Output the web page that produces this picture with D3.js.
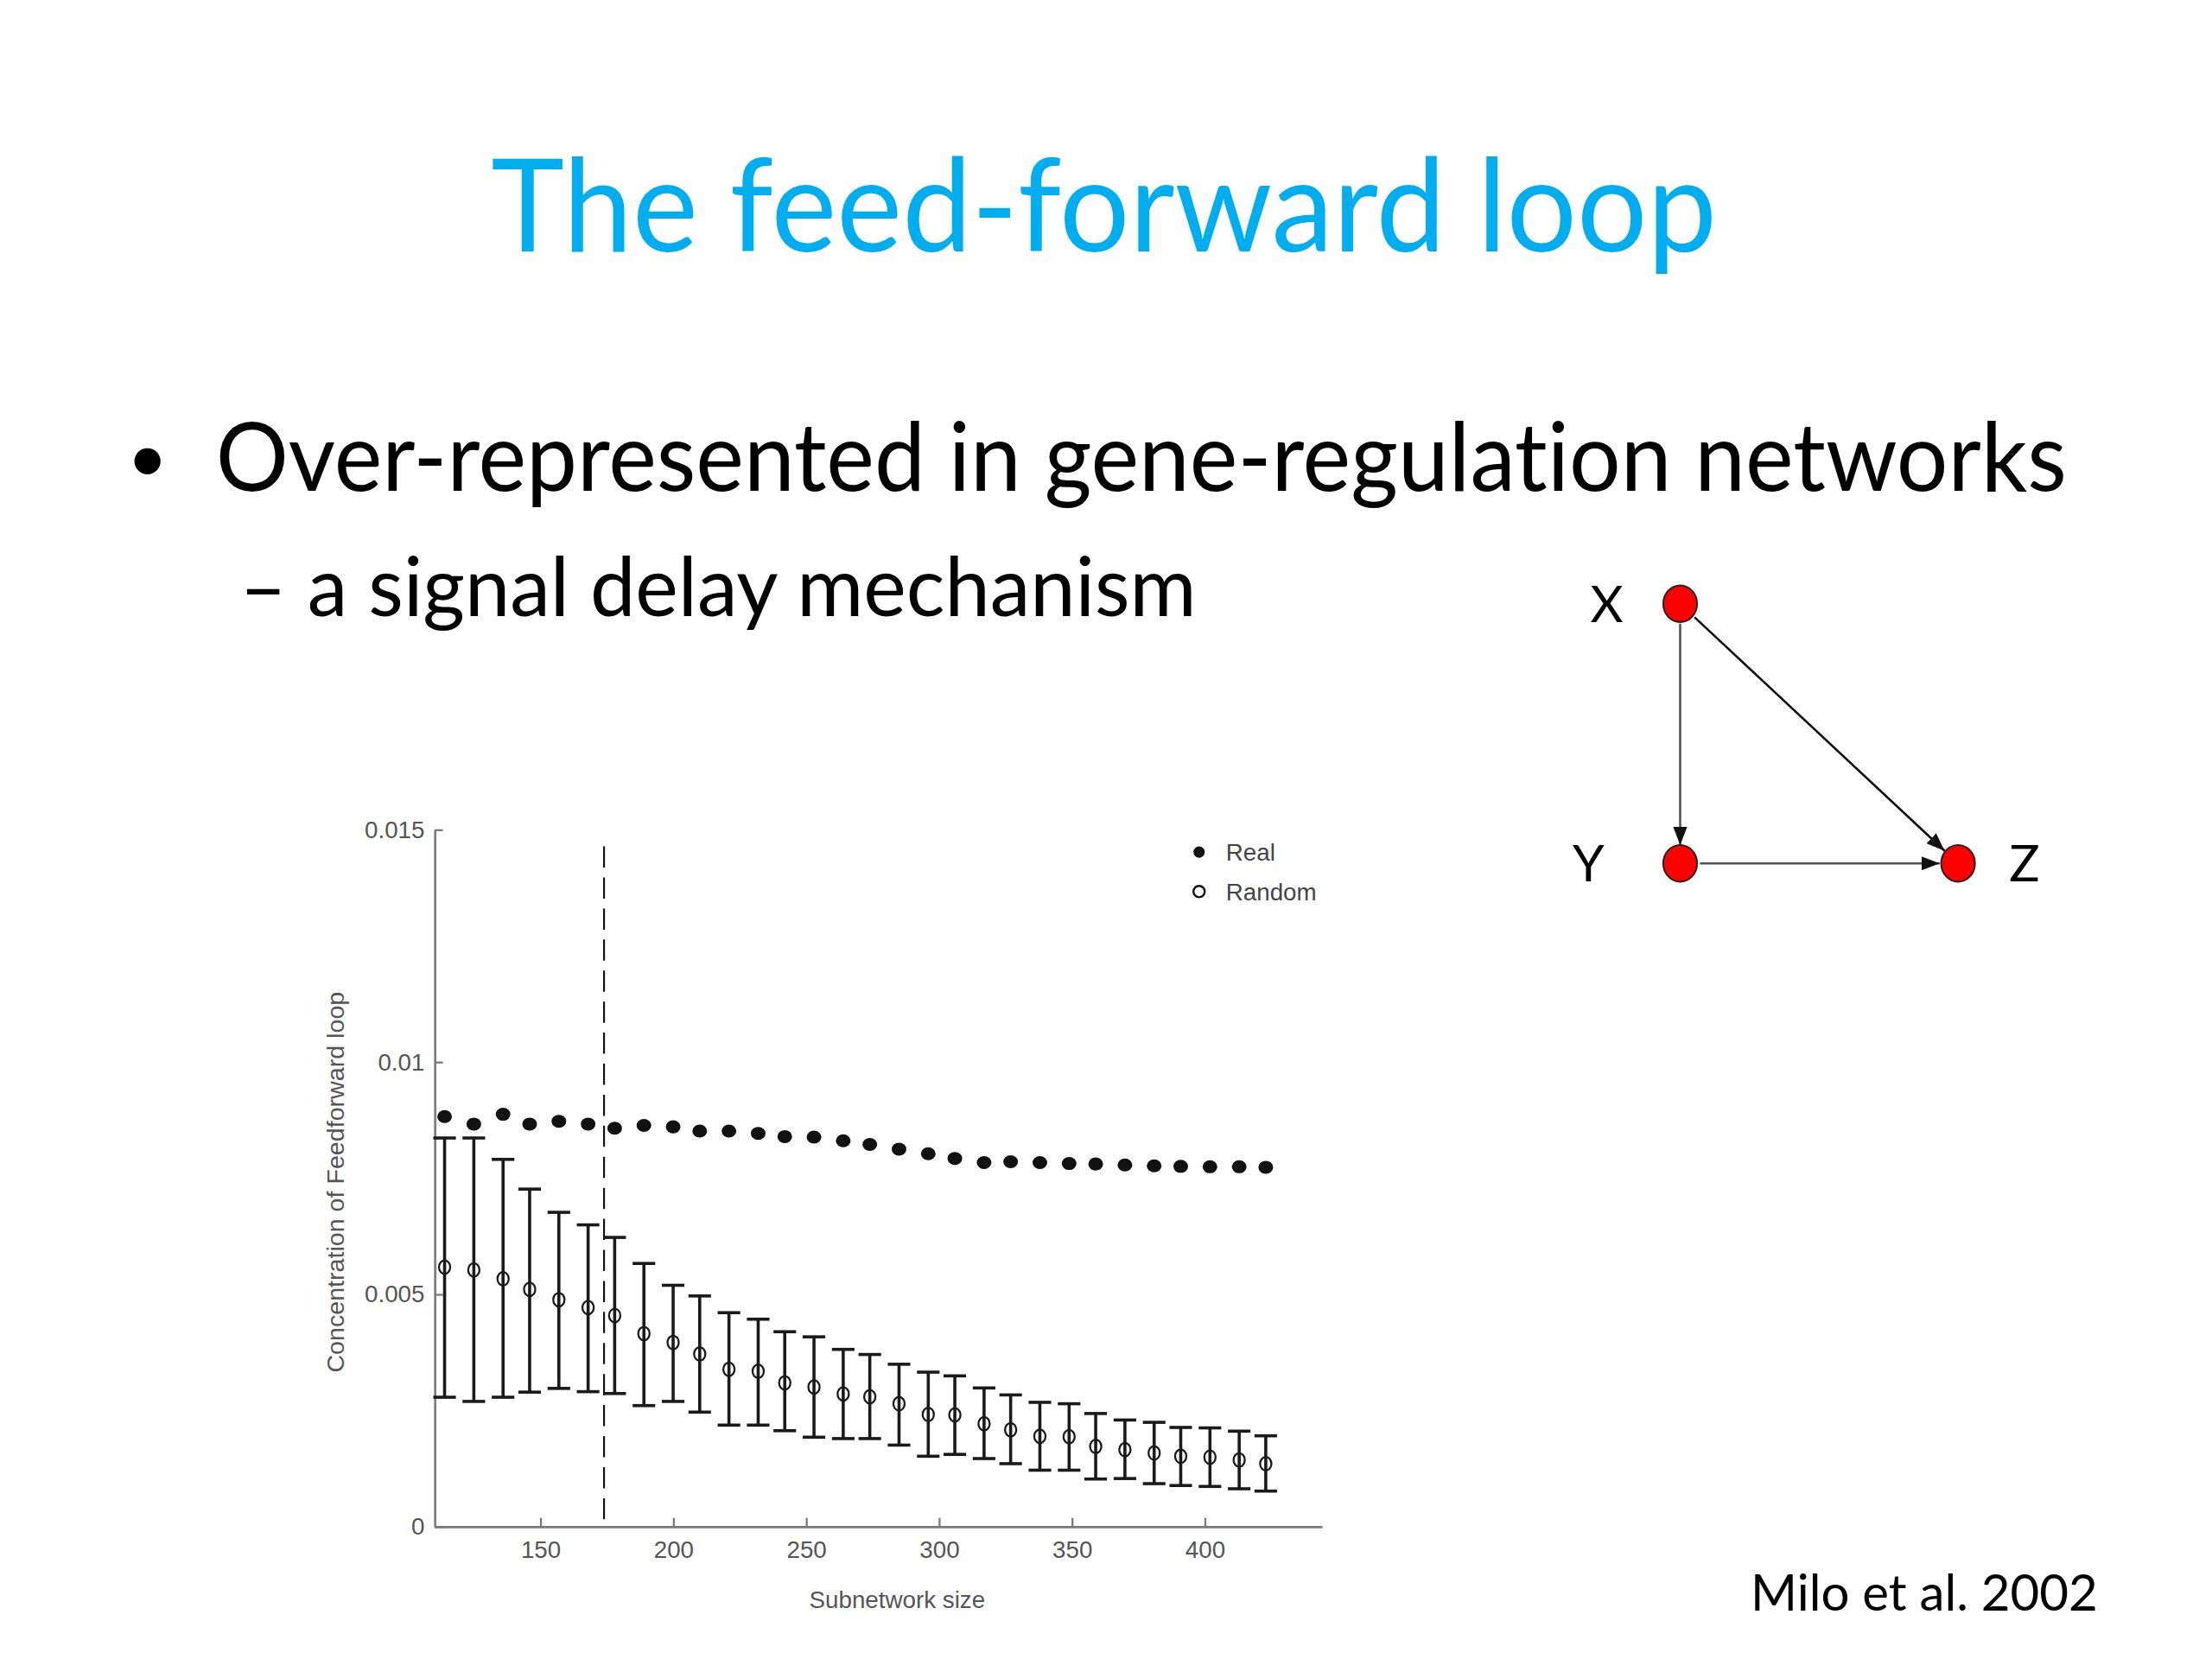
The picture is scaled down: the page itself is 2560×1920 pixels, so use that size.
<!DOCTYPE html>
<html>
<head>
<meta charset="utf-8">
<script src="https://cdn.jsdelivr.net/npm/d3@7"></script>
<style>
  html, body { margin: 0; padding: 0; background: #fff; }
  svg { display: block; }
  text { font-variant-ligatures: none; }
</style>
</head>
<body>
<svg id="slide" width="2560" height="1920" viewBox="0 0 1568 1176"></svg>
<script>
// subnetwork sizes (x)
const sizes = [114, 125, 136, 146, 157, 168, 178, 189, 200, 210,
               221, 232, 242, 253, 264, 274, 285, 296, 306, 317,
               327, 338, 349, 359, 370, 381, 391, 402, 413, 423];

// real network concentration
const realConc = [0.00882, 0.00866, 0.00887, 0.00866, 0.00872, 0.00866, 0.00857, 0.00863, 0.00860, 0.00851,
                  0.00851, 0.00846, 0.00839, 0.00838, 0.00830, 0.00822, 0.00812, 0.00802, 0.00792, 0.00783,
                  0.00785, 0.00783, 0.00781, 0.00780, 0.00778, 0.00776, 0.00775, 0.00774, 0.00774, 0.00773];

// randomized networks: mean, upper and lower error bar
const randMean = [0.00558, 0.00552, 0.00533, 0.00510, 0.00488, 0.00471, 0.00454, 0.00415, 0.00396, 0.00371,
                  0.00338, 0.00334, 0.00309, 0.00300, 0.00285, 0.00279, 0.00264, 0.00241, 0.00240, 0.00221,
                  0.00208, 0.00194, 0.00193, 0.00172, 0.00165, 0.00158, 0.00151, 0.00149, 0.00143, 0.00135];
const randHigh = [0.00836, 0.00836, 0.00790, 0.00726, 0.00676, 0.00649, 0.00622, 0.00566, 0.00519, 0.00496,
                  0.00460, 0.00446, 0.00419, 0.00408, 0.00381, 0.00370, 0.00349, 0.00332, 0.00324, 0.00298,
                  0.00283, 0.00267, 0.00264, 0.00243, 0.00229, 0.00224, 0.00213, 0.00212, 0.00205, 0.00195];
const randLow  = [0.00278, 0.00269, 0.00278, 0.00289, 0.00297, 0.00290, 0.00286, 0.00260, 0.00269, 0.00246,
                  0.00218, 0.00218, 0.00206, 0.00192, 0.00189, 0.00189, 0.00175, 0.00151, 0.00155, 0.00146,
                  0.00135, 0.00121, 0.00121, 0.00102, 0.00103, 0.00092, 0.00088, 0.00086, 0.00081, 0.00076];

const xTicks = [150, 200, 250, 300, 350, 400];
const yTicks = [0, 0.005, 0.01, 0.015];
const cutoff = 174;
const legendLabels = ["Real", "Random"];

const svg = d3.select('#slide');
const slideFont = 'Lato, "Open Sans", sans-serif';
const chartFont = '"Liberation Sans", Arial, sans-serif';

// slide text
svg.append('text')
  .attr('x', 348).attr('y', 178)
  .attr('textLength', 869).attr('lengthAdjust', 'spacingAndGlyphs')
  .style('font-family', slideFont).style('font-size', '92px')
  .attr('fill', '#00AEEF')
  .text('The feed-forward loop');

svg.append('text')
  .attr('x', 90).attr('y', 342)
  .style('font-family', slideFont).style('font-size', '50px')
  .attr('fill', '#000')
  .text('•');

svg.append('text')
  .attr('x', 153).attr('y', 348)
  .attr('textLength', 1312).attr('lengthAdjust', 'spacingAndGlyphs')
  .style('font-family', slideFont).style('font-size', '68px')
  .attr('fill', '#000')
  .text('Over-represented in gene-regulation networks');

svg.append('text')
  .attr('x', 170).attr('y', 437)
  .attr('textLength', 678).attr('lengthAdjust', 'spacingAndGlyphs')
  .style('font-family', slideFont).style('font-size', '58px')
  .attr('fill', '#000')
  .text('– a signal delay mechanism');

svg.append('text')
  .attr('x', 1241).attr('y', 1142)
  .attr('textLength', 246).attr('lengthAdjust', 'spacingAndGlyphs')
  .style('font-family', slideFont).style('font-size', '36px')
  .attr('fill', '#000')
  .text('Milo et al. 2002');

// chart
const x = d3.scaleLinear().domain([110.2, 444.1]).range([308, 937]);
const y = d3.scaleLinear().domain([0, 0.015]).range([1082, 588]);

const chart = svg.append('g');

const xAxis = chart.append('g')
  .attr('transform', 'translate(0,' + y(0) + ')')
  .call(d3.axisBottom(x).tickValues(xTicks).tickSizeInner(-6).tickSizeOuter(0).tickPadding(10));
const yAxis = chart.append('g')
  .attr('transform', 'translate(' + x.range()[0] + ',0)')
  .call(d3.axisLeft(y).tickValues(yTicks).tickSizeInner(-6).tickSizeOuter(0).tickPadding(7)
    .tickFormat(d => d === 0 ? '0' : String(d)));

[xAxis, yAxis].forEach(ax => {
  ax.select('.domain').attr('stroke', '#7a7a7a').attr('stroke-width', 1.6);
  ax.selectAll('.tick line').attr('stroke', '#7a7a7a').attr('stroke-width', 1.4);
  ax.selectAll('.tick text')
    .style('font-family', chartFont).style('font-size', '17px').attr('fill', '#555');
});

chart.append('text')
  .attr('x', 636).attr('y', 1140).attr('text-anchor', 'middle')
  .style('font-family', chartFont).style('font-size', '17px').attr('fill', '#555')
  .text('Subnetwork size');

chart.append('text')
  .attr('transform', 'translate(244,838) rotate(-90)').attr('text-anchor', 'middle')
  .attr('textLength', 270).attr('lengthAdjust', 'spacingAndGlyphs')
  .style('font-family', chartFont).style('font-size', '17px').attr('fill', '#555')
  .text('Concentration of Feedforward loop');

// dashed cutoff line
chart.append('line')
  .attr('x1', x(cutoff)).attr('x2', x(cutoff))
  .attr('y1', 600).attr('y2', y(0))
  .attr('stroke', '#111').attr('stroke-width', 1.3)
  .attr('stroke-dasharray', '15,7');

// error bars for random networks
const bars = chart.append('g').selectAll('g')
  .data(sizes.map((s, i) => ({ s, lo: randLow[i], hi: randHigh[i], m: randMean[i] })))
  .join('g')
  .attr('stroke', '#1a1a1a').attr('stroke-width', 2.2);

bars.append('line')
  .attr('x1', d => x(d.s)).attr('x2', d => x(d.s))
  .attr('y1', d => y(d.lo)).attr('y2', d => y(d.hi));
bars.append('line')
  .attr('x1', d => x(d.s) - 8).attr('x2', d => x(d.s) + 8)
  .attr('y1', d => y(d.hi)).attr('y2', d => y(d.hi));
bars.append('line')
  .attr('x1', d => x(d.s) - 8).attr('x2', d => x(d.s) + 8)
  .attr('y1', d => y(d.lo)).attr('y2', d => y(d.lo));

bars.append('ellipse')
  .attr('cx', d => x(d.s)).attr('cy', d => y(d.m)).attr('rx', 4).attr('ry', 4.8)
  .attr('fill', 'none').attr('stroke-width', 1.4);

// real network points
chart.append('g').selectAll('ellipse')
  .data(sizes.map((s, i) => ({ s, v: realConc[i] })))
  .join('ellipse')
  .attr('cx', d => x(d.s)).attr('cy', d => y(d.v))
  .attr('rx', 5.2).attr('ry', 4.6)
  .attr('fill', '#111');

// legend
const legend = chart.append('g').attr('transform', 'translate(850,604)');
legendLabels.forEach((lab, i) => {
  const row = legend.append('g').attr('transform', 'translate(0,' + (i * 28) + ')');
  if (i === 0) {
    row.append('circle').attr('r', 4).attr('fill', '#111');
  } else {
    row.append('circle').attr('r', 4).attr('fill', '#fff').attr('stroke', '#111').attr('stroke-width', 1.5);
  }
  row.append('text').attr('x', 19).attr('y', 6)
    .style('font-family', chartFont).style('font-size', '17px').attr('fill', '#444')
    .text(lab);
});

// feed-forward motif diagram
const nodes = [
  { id: 'X', cx: 1191, cy: 428, lx: 1139 },
  { id: 'Y', cx: 1191, cy: 612, lx: 1126 },
  { id: 'Z', cx: 1388, cy: 612, lx: 1435 }
];
const edges = [['X', 'Y', '#555'], ['X', 'Z', '#111'], ['Y', 'Z', '#555']];
const byId = {};
nodes.forEach(n => { byId[n.id] = n; });

svg.append('defs').append('marker')
  .attr('id', 'arrow').attr('viewBox', '0 0 10 10')
  .attr('refX', 10).attr('refY', 5)
  .attr('markerWidth', 13).attr('markerHeight', 10)
  .attr('markerUnits', 'userSpaceOnUse')
  .attr('orient', 'auto')
  .attr('preserveAspectRatio', 'none')
  .append('path').attr('d', 'M0,0 L10,5 L0,10 Z').attr('fill', '#111');

const motif = svg.append('g');
motif.selectAll('line')
  .data(edges)
  .join('line')
  .each(function (e) {
    const a = byId[e[0]], b = byId[e[1]];
    const dx = b.cx - a.cx, dy = b.cy - a.cy, len = Math.hypot(dx, dy);
    const ux = dx / len, uy = dy / len;
    d3.select(this)
      .attr('x1', a.cx + ux * 14).attr('y1', a.cy + uy * 14)
      .attr('x2', b.cx - ux * 13).attr('y2', b.cy - uy * 13)
      .attr('stroke', e[2]);
  })
  .attr('stroke-width', 1.6)
  .attr('marker-end', 'url(#arrow)');

motif.selectAll('ellipse')
  .data(nodes)
  .join('ellipse')
  .attr('cx', d => d.cx).attr('cy', d => d.cy)
  .attr('rx', 12).attr('ry', 13)
  .attr('fill', '#ff0000').attr('stroke', '#222').attr('stroke-width', 1.2);

motif.selectAll('text')
  .data(nodes)
  .join('text')
  .attr('x', d => d.lx).attr('y', d => d.cy + 13)
  .attr('text-anchor', 'middle')
  .style('font-family', slideFont).style('font-size', '36px')
  .attr('fill', '#000')
  .text(d => d.id);
</script>
</body>
</html>
